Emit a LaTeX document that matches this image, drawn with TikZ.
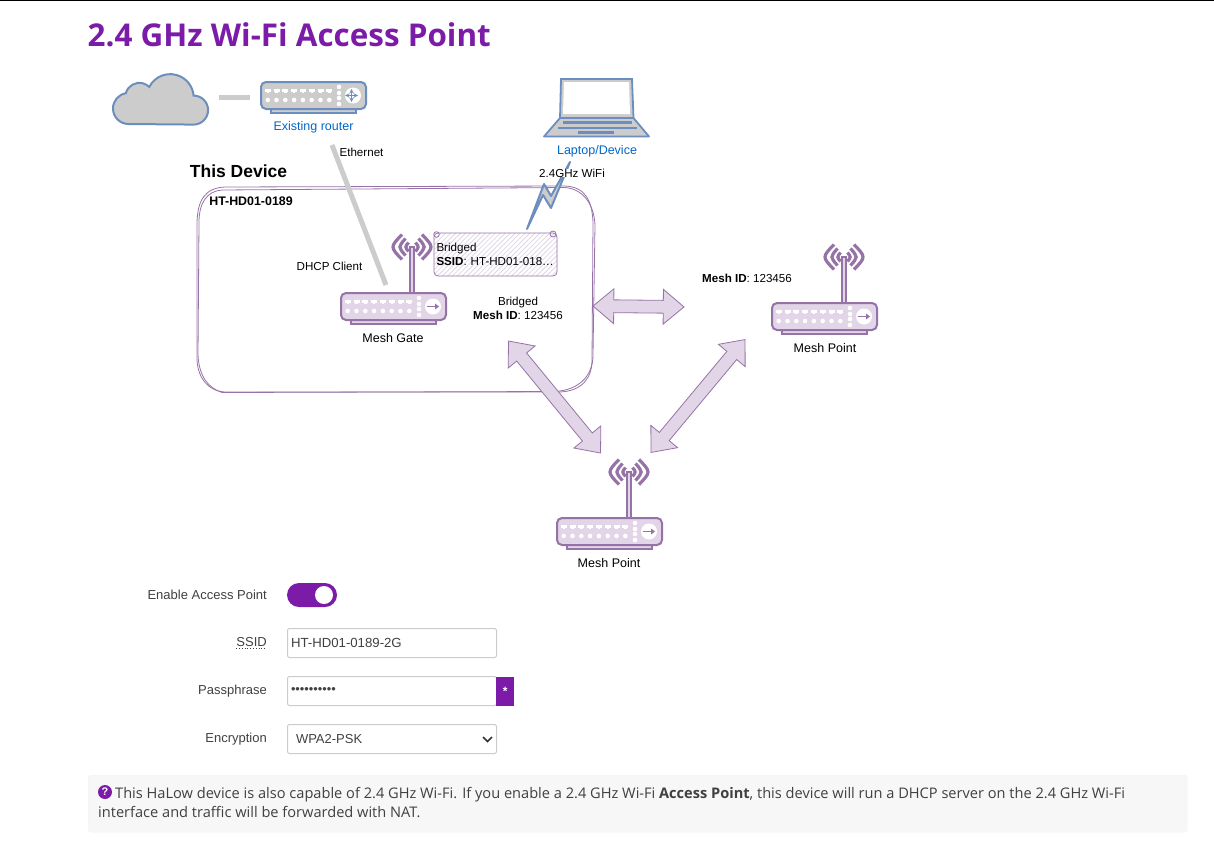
\documentclass[tikz,border=0pt]{standalone}
\usepackage{fontspec}
\setmainfont{Liberation Sans}
\newfontfamily\titlefont{Open Sans}
\usetikzlibrary{calc, shapes.arrows, patterns.meta}

\definecolor{pagepurple}{HTML}{7B1BA8}
\definecolor{meshfill}{HTML}{E1D5E7}
\definecolor{meshline}{HTML}{9673A6}
\definecolor{netfill}{HTML}{CCCCCC}
\definecolor{netline}{HTML}{6C8EBF}
\definecolor{linkblue}{HTML}{0066CC}
\definecolor{formtext}{HTML}{404040}
\definecolor{formline}{HTML}{CCCCCC}

\tikzset{
    my-label/.style={font=\fontsize{11.6}{14}\selectfont, inner sep=0pt},
    my-big-label/.style={font=\fontsize{12.5}{14}\selectfont, inner sep=0pt},
    my-blue-label/.style={my-big-label, text=linkblue},
    my-form-label/.style={font=\fontsize{13}{16}\selectfont, text=formtext, inner sep=0pt, anchor=east},
    my-input/.style={draw=formline, rounded corners=2pt, line width=1pt, minimum height=29pt,
        text width=202pt, align=left, inner xsep=3.5pt, inner ysep=4pt, anchor=west, text=formtext,
        font=\fontsize{13.2}{16}\selectfont},
    my-mesh-link/.style={double arrow, draw=meshline, fill=meshfill, line width=.8pt, inner xsep=0pt, inner ysep=6pt,
        minimum width=34pt, double arrow head extend=11pt, double arrow tip angle=80},
    my-wire/.style={draw=netfill, line width=5pt},
    pics/router/.style 2 args={code={
        \draw[#1, line width=2pt, fill=#2] (10,27) rectangle (95,31);
        \draw[#1, line width=2pt, fill=#2, rounded corners=5pt] (0,0) rectangle (105,27);
        \foreach \n in {0,...,7} {
            \fill[white] ({6.7+8.8*\n-3},7) rectangle ++(6,2.6);
            \fill[white] ({6.7+8.8*\n-1.2},9) rectangle ++(2.4,2);
            \fill[white] ({6.7+8.8*\n},18) circle (2.3pt);
        }
        \foreach \y in {5,11,16,22} {
            \fill[white] (78,\y) circle (2.3pt);
        }
        \fill[white] (92,13.5) circle (8pt);
    }},
    pics/antenna/.style={code={
        \draw[meshline, line width=1.5pt, fill=meshfill] (-2,46) rectangle (2,0);
        \foreach \a/\b/\c in {3.5/4.5/7, 6.5/8.5/14, 10/12.5/22} {
            \draw[meshline, line width=3.2pt] (-\a,-\b) .. controls (-\c,0) .. (-\a,\b);
            \draw[meshline, line width=3.2pt] (\a,-\b) .. controls (\c,0) .. (\a,\b);
        }
    }},
    pics/gate-glyph/.style={code={
        \draw[meshline, line width=1.8pt] (-6,0) -- (3,0);
        \fill[meshline] (6,0) -- (2,-3) -- (2,3) -- cycle;
    }},
}

\begin{document}
\begin{tikzpicture}[x=1pt, y=-1pt]

        \useasboundingbox (0,0) rectangle (1214,867);
        \fill[black] (0,0) rectangle (1214,1.2);

        % TITLE
        \node[anchor=west, inner sep=0pt, text=pagepurple, font=\titlefont\bfseries\fontsize{31.4}{36}\selectfont] (TITLE) at (87.5,35) {2.4 GHz Wi-Fi Access Point};

        % THIS DEVICE BOX
        \draw[meshline, line width=.8pt] (197,225) .. controls (197,200) and (205,188) .. (225,187) -- (565,186) .. controls (585,187) and (592,200) .. (593,222) -- (592,360) .. controls (592,378) and (582,391) .. (560,392) -- (225,392) .. controls (208,391) and (198,378) .. (197,360) -- cycle;
        \draw[meshline, line width=.8pt] (199,222) .. controls (199,203) and (207,191) .. (222,190) -- (565,187.5) .. controls (583,189) and (594,204) .. (595,225) -- (593,355) .. controls (593,375) and (580,390) .. (555,391.5) -- (222,392.5) .. controls (208,388) and (199,376) .. (198,355) -- cycle;
        \node[inner sep=0pt, font=\bfseries\fontsize{17.5}{20}\selectfont] (THISDEVICE) at (238.5,171) {This Device};
        \node[inner sep=0pt, font=\bfseries\fontsize{12.4}{14}\selectfont] (HOSTNAME) at (251,201) {HT-HD01-0189};

        % CLOUD AND EXISTING ROUTER
        \draw[netline, line width=2pt, fill=netfill] (128.5,124) arc[start angle=270, end angle=100, radius=15.5pt] arc[start angle=165, end angle=45, radius=14pt] arc[start angle=153, end angle=5, radius=23.5pt] arc[start angle=90, end angle=-90, radius=14.5pt] -- cycle;
        \pic at (261,82) {router={netline}{netfill}};
        \draw[netline, line width=1pt, <->, >=stealth] (345,95.5) -- (358,95.5);
        \draw[netline, line width=1pt, <->, >=stealth] (351.5,89) -- (351.5,102);
        \node[my-blue-label] (ROUTERLABEL) at (313.5,127) {Existing router};
        \coordinate (CLOUDOUT) at (219,97);
        \coordinate (ROUTERIN) at (250,97);
        \draw[my-wire] (CLOUDOUT) -- (ROUTERIN);

        % LAPTOP
        \draw[netline, line width=1.8pt, fill=netfill] (561,79) -- (632,79) -- (633.5,118) -- (560,118) -- cycle;
        \fill[white] (564,82) -- (629,82) -- (630,114) -- (563,114) -- cycle;
        \draw[netline, line width=1.8pt, fill=netfill, line join=round] (560,118) -- (633.5,118) -- (649,136.5) -- (544,136.5) -- cycle;
        \draw[netline, line width=2.2pt] (563,122.5) -- (632,122.5);
        \draw[netline, line width=2.2pt] (558,128) -- (637,128);
        \draw[netline, line width=2.2pt] (578,132.5) -- (614,132.5);
        \node[my-blue-label] (LAPTOPLABEL) at (597,151) {Laptop/Device};

        % WIFI LINK
        \draw[netline, line width=2pt, fill=netfill, line join=round] (527,229) -- (544,184) -- (551,196) -- (570,162) -- (551,208) -- (543,195) -- cycle;
        \node[my-label, fill=white, inner xsep=1pt] (WIFILABEL) at (572,173) {2.4GHz WiFi};

        % ETHERNET
        \coordinate (ETHTOP) at (332,145);
        \coordinate (ETHBOTTOM) at (386,285);
        \draw[my-wire] (ETHTOP) -- (ETHBOTTOM);
        \node[my-label] (ETHLABEL) at (361.5,152) {Ethernet};
        \node[my-label] (DHCPLABEL) at (329.5,266) {DHCP Client};

        % MESH GATE
        \pic at (412,247) {antenna};
        \pic at (341,293) {router={meshline}{meshfill}};
        \pic at (433,306.5) {gate-glyph};
        \node[my-big-label] (GATELABEL) at (393,338) {Mesh Gate};

        % BRIDGED BOX
        \node[draw=meshline, line width=.8pt, rounded corners=4pt, minimum width=123pt, minimum height=43pt,
            pattern={Lines[angle=45,distance=3.5pt,line width=.8pt]}, pattern color=meshfill,
            text width=118pt, inner sep=0pt, align=left, font=\fontsize{11.6}{14}\selectfont] (BRIDGEBOX) at (495.5,254.5) {Bridged\\\mbox{{\bfseries SSID}: HT-HD01-018…}};
        \draw[meshline, line width=.8pt] (436.5,234.5) circle (2.8pt);
        \draw[meshline, line width=.8pt] (553,234) circle (3pt);
        \node[my-label, align=center] (BRIDGELABEL) at (518,308) {Bridged\\{\bfseries Mesh ID}: 123456};

        % MESH POINTS
        \pic at (844,257) {antenna};
        \pic at (772,303) {router={meshline}{meshfill}};
        \pic at (864,316.5) {gate-glyph};
        \node[my-big-label] (POINTLABELA) at (825,348) {Mesh Point};
        \node[my-label] (MESHIDLABEL) at (747,278) {{\bfseries Mesh ID}: 123456};

        \pic at (629,472) {antenna};
        \pic at (557,518) {router={meshline}{meshfill}};
        \pic at (649,531.5) {gate-glyph};
        \node[my-big-label] (POINTLABELB) at (609,563) {Mesh Point};

        % MESH LINKS
        \node[my-mesh-link, minimum height=91pt, rotate=-0.6] (LINKA) at (638.5,306.5) {};
        \node[my-mesh-link, minimum height=147pt, rotate=50.2] (LINKB) at (698,396) {};
        \node[my-mesh-link, minimum height=145pt, rotate=-50.6] (LINKC) at (554.5,397) {};

        % FORM
        \node[my-form-label] (ENABLELABEL) at (267,594.5) {Enable Access Point};
        \node[fill=pagepurple, rounded corners=12pt, minimum width=50pt, minimum height=24pt, inner sep=0pt] (TOGGLE) at (312,595) {};
        \node[fill=white, circle, minimum size=18pt, inner sep=0pt] (KNOB) at (324,595) {};

        \node[my-form-label] (SSIDLABEL) at (267,642) {SSID};
        \draw[formtext, line width=.8pt, dotted] (SSIDLABEL.south west) ++(0,2) -- ++(30,0);
        \node[my-input] (SSIDINPUT) at (287,643) {HT-HD01-0189-2G};

        \node[my-form-label] (PASSLABEL) at (267,691.5) {Passphrase};
        \node[my-input, font=\fontsize{12.8}{16}\selectfont] (PASSINPUT) at (287,691) {••••••••••};
        \node[fill=pagepurple, minimum width=18pt, minimum height=29pt, inner sep=0pt, text=white, anchor=west, font=\bfseries\fontsize{12}{12}\selectfont] (PASSBUTTON) at (496,691) {\raisebox{-2.5pt}{*}};

        \node[my-form-label] (ENCLABEL) at (267,739) {Encryption};
        \node[my-input, inner xsep=8.5pt, text width=192pt, font=\fontsize{13}{16}\selectfont] (ENCINPUT) at (287,739) {WPA2-PSK};
        \draw[black!80, line width=1.6pt] (483,737) -- (487.5,741.5) -- (492,737);

        % HELP NOTE
        \node[draw=black!5, fill=black!3, rounded corners=3pt, minimum width=1099pt, minimum height=57pt, inner sep=0pt, anchor=north west] (NOTE) at (88,775) {};
        \node[anchor=north west, inner sep=0pt, align=left, text=formtext, font=\titlefont\fontsize{14.6}{19}\selectfont] (NOTETEXT) at (98,787.5) {\hspace{17pt}This HaLow device is also capable of 2.4 GHz Wi-Fi. If you enable a 2.4 GHz Wi-Fi {\bfseries Access Point}, this device will run a DHCP server on the 2.4 GHz Wi-Fi\\interface and traffic will be forwarded with NAT.};
        \node[circle, fill=pagepurple, minimum size=14pt, inner sep=0pt, text=white, font=\bfseries\fontsize{11}{12}\selectfont] (HELPICON) at (105,792) {?};

    \end{tikzpicture}
\end{document}
